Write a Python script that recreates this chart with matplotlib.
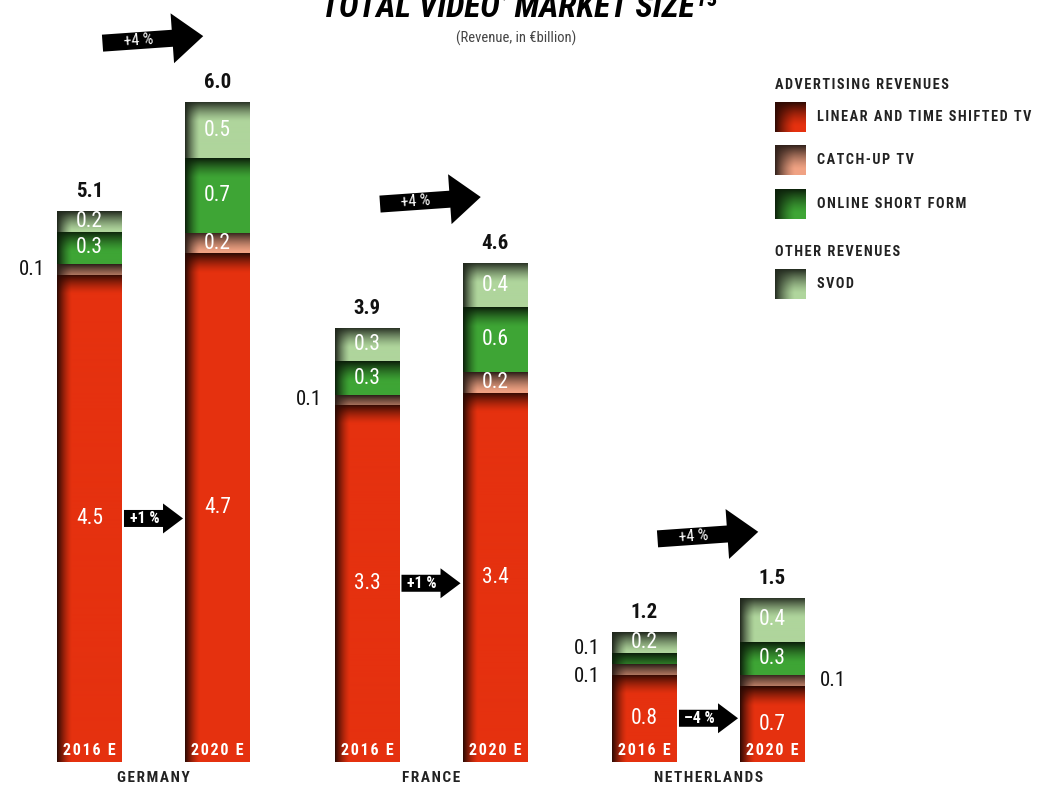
import numpy as np
import matplotlib
matplotlib.use('Agg')
import matplotlib.pyplot as plt
from matplotlib.colors import to_rgb
from matplotlib.patches import Polygon

FONT = ['Liberation Sans Narrow', 'Roboto Condensed', 'DejaVu Sans']
plt.rcParams['font.family'] = FONT

# data (EUR billion), bar order: DE 2016, DE 2020, FR 2016, FR 2020, NL 2016, NL 2020
countries = ['GERMANY', 'FRANCE', 'NETHERLANDS']
years = ['2016 E', '2020 E']
linear_tv = [4.51, 4.71, 3.31, 3.42, 0.81, 0.70]
catchup_tv = [0.10, 0.19, 0.09, 0.19, 0.10, 0.11]
online_short = [0.30, 0.69, 0.31, 0.60, 0.10, 0.30]
svod = [0.19, 0.52, 0.31, 0.41, 0.19, 0.41]
total_labels = ['5.1', '6.0', '3.9', '4.6', '1.2', '1.5']
growth_total = ['+4 %', '+4 %', '+4 %']
growth_linear = ['+1 %', '+1 %', '\u20134 %']

segments = [
    ('LINEAR AND TIME SHIFTED TV', linear_tv, '#e5310f'),
    ('CATCH-UP TV', catchup_tv, '#f0a283'),
    ('ONLINE SHORT FORM', online_short, '#3ea535'),
    ('SVOD', svod, '#afd59c'),
]

W, H = 1043, 785
BASE_PX = 762        # pixel row of the zero line
PX_UNIT = 108        # pixels per billion
GROUP_PX = 277.5     # pixels between country groups
BW = 0.234           # bar width in group units
OFF = 0.2306


def spaced(s):
    # poor man's letter spacing
    return '\u200a'.join(s)


def shade(base, h_px, w_px, fade_top=20, fade_left=15, k=0.82):
    # dark top/left edges fading into the base colour
    rgb = np.array(to_rgb(base))
    h = max(int(round(h_px)), 2)
    w = max(int(round(w_px)), 2)
    yy = np.arange(h)[:, None] + 0.5
    xx = np.arange(w)[None, :] + 0.5
    dt = np.clip(1 - yy / fade_top, 0, 1) ** 1.4
    dl = np.clip(1 - xx / fade_left, 0, 1) ** 1.4
    d = 1 - (1 - dt) * (1 - dl)
    return rgb[None, None, :] * (1 - k * d)[:, :, None]


fig = plt.figure(figsize=(W / 100, H / 100), dpi=100)
ax = fig.add_axes([0, (H - BASE_PX) / H, 1, 702 / H])
lax = fig.add_axes([0, 0, 1, 1])
lax.set_xlim(0, W)
lax.set_ylim(H, 0)
lax.axis('off')

xs = np.array([g + o for g in range(len(countries)) for o in (-OFF, OFF)])
bar_px = BW * GROUP_PX

bottoms = np.zeros(len(xs))
outside = {}
for name, vals, col in segments:
    vals = np.array(vals)
    bars = ax.bar(xs, vals, width=BW, bottom=bottoms, color=col, linewidth=0, zorder=2)
    for i, (rect, v) in enumerate(zip(bars, vals)):
        x0, y0 = rect.get_x(), rect.get_y()
        im = ax.imshow(shade(col, v * PX_UNIT, bar_px), extent=[x0, x0 + BW, y0, y0 + v],
                       aspect='auto', interpolation='bilinear', zorder=3)
        im.set_clip_path(rect)
        yc = y0 + v / 2
        if v >= 0.15:
            ax.text(xs[i], yc, f'{v:.1f}', ha='center', va='center', color='white',
                    fontsize=15.5, zorder=5)
        else:
            outside.setdefault(i, []).append((yc, f'{v:.1f}'))
    bottoms += vals

ax.set_xlim(-153.5 / GROUP_PX, (W - 153.5) / GROUP_PX)
ax.set_ylim(0, 702 / PX_UNIT)
ax.axis('off')

# small values written beside the bar
for i, items in outside.items():
    offs = [0.0] if len(items) == 1 else [-5.5, 7.0]
    for (yc, lab), dy in zip(items, offs):
        if i % 2 == 0:
            ax.annotate(lab, (xs[i] - BW / 2, yc), xytext=(-9, dy), textcoords='offset points',
                        ha='right', va='center', fontsize=15, color='#111')
        else:
            ax.annotate(lab, (xs[i] + BW / 2, yc), xytext=(11, dy), textcoords='offset points',
                        ha='left', va='center', fontsize=15, color='#111')

totals = bottoms
for i, x in enumerate(xs):
    ax.annotate(total_labels[i], (x, totals[i]), xytext=(0, 14), textcoords='offset points',
                ha='center', va='center', fontsize=15, fontweight='bold', color='#111')
    ax.annotate(spaced(years[i % 2]), (x, 0), xytext=(0, 8.5), textcoords='offset points',
                ha='center', va='center', fontsize=11.5, fontweight='bold', color='white',
                zorder=6)

for g, c in enumerate(countries):
    ax.annotate(spaced(c), (g, 0), xytext=(0, -11.5), textcoords='offset points', ha='center',
                va='center', fontsize=11, fontweight='bold', color='#222', annotation_clip=False)


def to_px(x, y):
    dx, dy = ax.transData.transform((x, y))
    return dx, H - dy


def arrow(x_tail, x_tip, yc, label, hl, hw, bh, angle, fs, weight):
    L = x_tip - x_tail
    pts = np.array([(0, -bh / 2), (L - hl, -bh / 2), (L - hl, -hw / 2), (L, 0),
                    (L - hl, hw / 2), (L - hl, bh / 2), (0, bh / 2)])
    a = np.deg2rad(angle)
    rot = np.array([[np.cos(a), -np.sin(a)], [np.sin(a), np.cos(a)]])
    r = pts @ rot.T
    verts = np.column_stack([x_tail + r[:, 0], yc - r[:, 1]])
    lax.add_patch(Polygon(verts, closed=True, facecolor='black', edgecolor='none', zorder=4))
    tx, ty = rot @ np.array([(L - hl) / 2 + 1, 0])
    lax.text(x_tail + tx, yc - ty, label, ha='center', va='center', rotation=angle,
             rotation_mode='anchor', color='white', fontsize=fs, fontweight=weight, zorder=5)


for g in range(len(countries)):
    i1, i2 = 2 * g, 2 * g + 1
    # total growth arrow above the pair
    xt, yt = to_px(xs[i1], totals[i2] + 0.546)
    xp, _ = to_px(xs[i2], 0)
    arrow(xt + 13, xp - 14, yt, growth_total[g], 31, 50, 17, 4, 11.5, 'normal')
    # linear TV growth arrow between the bars
    xt, yt = to_px(xs[i1] + BW / 2, linear_tv[i1] / 2)
    xp, _ = to_px(xs[i2] - BW / 2, 0)
    arrow(xt + 2, xp - 2, yt, growth_linear[g], 20, 30, 17, 0, 11.5, 'bold')

# title block
lax.text(515, 17, '\u2018TOTAL VIDEO\u2019 MARKET SIZE\u00b9\u2075', ha='center', va='baseline',
         fontsize=24, fontweight='bold', fontstyle='italic', color='black')
lax.text(516, 38, '(Revenue, in \u20acbillion)', ha='center', va='center', fontsize=10.5,
         color='#444')

# legend
LEG_FS = 10.3
lax.text(775, 85, spaced('ADVERTISING REVENUES'), ha='left', va='center', fontsize=LEG_FS,
         fontweight='bold', color='#222')
lax.text(775, 252, spaced('OTHER REVENUES'), ha='left', va='center', fontsize=LEG_FS,
         fontweight='bold', color='#222')
for (name, _, col), yc in zip(segments, [117, 160, 204, 284]):
    lax.imshow(shade(col, 30, 31, fade_top=24, fade_left=20, k=0.8),
               extent=[775, 806, yc + 15, yc - 15], aspect='auto', interpolation='bilinear')
    lax.text(817, yc, spaced(name), ha='left', va='center', fontsize=LEG_FS, fontweight='bold',
             color='#222')
lax.set_xlim(0, W)
lax.set_ylim(H, 0)

fig.savefig('out.png', dpi=100)
